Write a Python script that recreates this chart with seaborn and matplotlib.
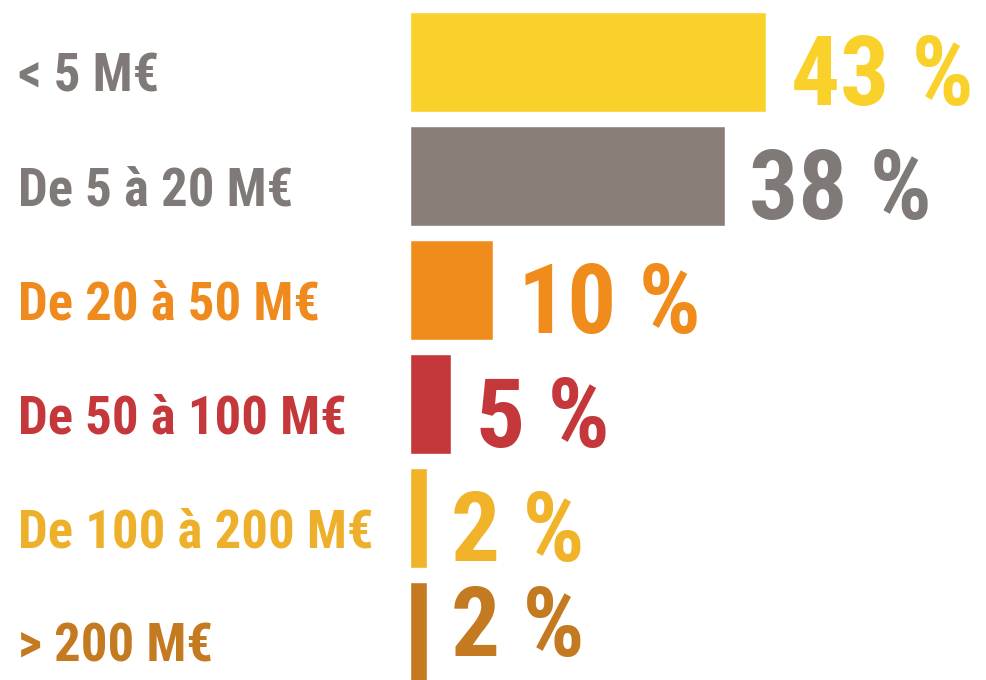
import matplotlib
matplotlib.use("Agg")
import matplotlib.pyplot as plt
import matplotlib.transforms as mtransforms
from matplotlib import font_manager
import seaborn as sns
import pandas as pd

categories = ["< 5 M€", "De 5 à 20 M€", "De 20 à 50 M€", "De 50 à 100 M€",
              "De 100 à 200 M€", "> 200 M€"]
values = [43, 38, 10, 5, 2, 2]
pct_labels = ["43 %", "38 %", "10 %", "5 %", "2 %", "2 %"]
bar_colors = ["#F9D12A", "#8A7F78", "#F08C1C", "#C4373A", "#F0B32A", "#C47A20"]
label_colors = ["#7F7A77", "#7F7A77", "#EE8A1E", "#C4373A", "#EEB02A", "#C47A20"]

installed = {f.name for f in font_manager.fontManager.ttflist}
font = next((f for f in ["Roboto Condensed", "Liberation Sans Narrow", "Open Sans Condensed",
                         "Roboto", "Liberation Sans"] if f in installed), "DejaVu Sans")

sns.set_theme(style="white")
plt.rcParams["font.family"] = [font, "DejaVu Sans"]

df = pd.DataFrame({"cat": categories, "val": values})

fig = plt.figure(figsize=(9.87, 6.8), dpi=100)
ax = fig.add_axes([410 / 987, 0, 577 / 987, 1])
sns.barplot(data=df, y="cat", x="val", hue="cat", palette=bar_colors,
            order=categories, hue_order=categories, legend=False,
            width=0.88, saturation=1, ax=ax)

ax.set_xlim(0, 577 / 8.28)
ax.set_ylim(5.42, -0.544)
ax.axis("off")

trans = mtransforms.blended_transform_factory(fig.transFigure, ax.transData)
for i, (cat, v) in enumerate(zip(categories, values)):
    ax.text(18 / 987, i + 0.26, cat, transform=trans, ha="left", va="baseline",
            fontsize=38, fontweight="bold", color=label_colors[i])
    # last row sits a bit higher so the big number stays inside the frame
    ax.text(v + 3.0, min(i + 0.38, 5.21), pct_labels[i], ha="left", va="baseline",
            fontsize=70, fontweight="bold", color=bar_colors[i] if i != 1 else "#7F7A77")

fig.savefig("out.png", dpi=100)
